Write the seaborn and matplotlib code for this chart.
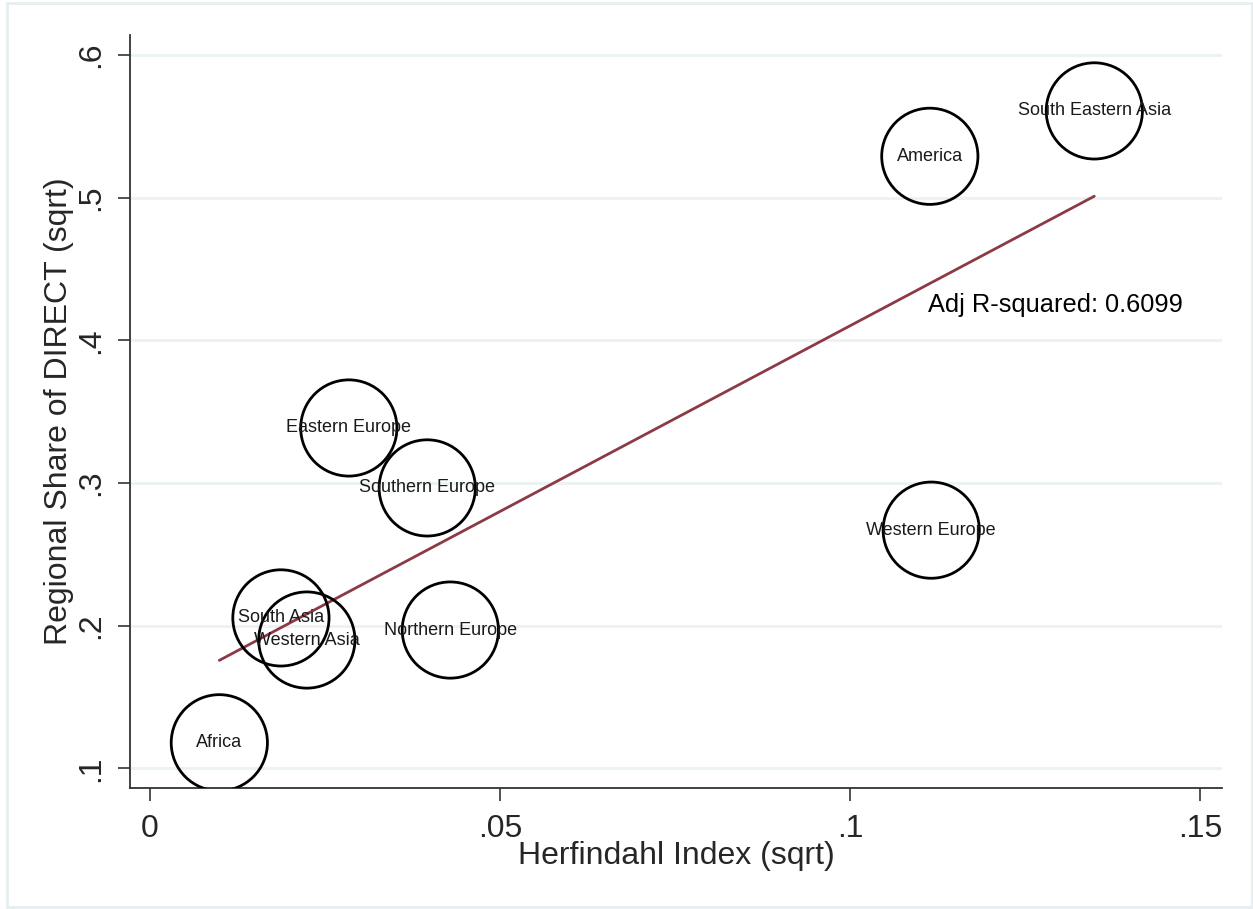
import numpy as np
import seaborn as sns
import matplotlib.pyplot as plt
import pandas as pd

regions = ['South Eastern Asia', 'America', 'Western Europe', 'Eastern Europe',
           'Southern Europe', 'Northern Europe', 'South Asia', 'Western Asia', 'Africa']
herfindahl = [0.1349, 0.1114, 0.1116, 0.0284, 0.0396, 0.0429, 0.0187, 0.0224, 0.0099]
share_direct = [0.5608, 0.5290, 0.2670, 0.3386, 0.2966, 0.1970, 0.2055, 0.1900, 0.1180]
adj_r2 = "Adj R-squared: 0.6099"

df = pd.DataFrame({'region': regions, 'hhi': herfindahl, 'share': share_direct})

sns.set_style("white")
plt.rcParams['font.family'] = ['Liberation Sans', 'DejaVu Sans']

fig = plt.figure(figsize=(12.53, 9.09), dpi=100)
ax = fig.add_axes([130/1253, 1 - 788/909, (1222-130)/1253, (788-35)/909])

# bubbles (equal weights)
sns.scatterplot(data=df, x='hhi', y='share', s=4800, facecolor='none',
                edgecolor='black', linewidth=2, ax=ax, zorder=3)
for _, r in df.iterrows():
    ax.text(r['hhi'], r['share'], r['region'], ha='center', va='center',
            fontsize=13, color='#1a1a1a', zorder=4)

# linear fit
sns.regplot(data=df, x='hhi', y='share', scatter=False, ci=None, truncate=True,
            line_kws={'color': '#8b3a46', 'linewidth': 2}, ax=ax)

ax.text(0.1111, 0.4248, adj_r2, ha='left', va='center', fontsize=18.3, color='black')

ax.set_xlim(-0.00286, 0.15314)
ax.set_ylim(0.0863, 0.614)
ax.set_xticks([0, 0.05, 0.1, 0.15])
ax.set_xticklabels(['0', '.05', '.1', '.15'])
ax.set_yticks([0.1, 0.2, 0.3, 0.4, 0.5, 0.6])
ax.set_yticklabels(['.1', '.2', '.3', '.4', '.5', '.6'], rotation=90, va='center')
ax.tick_params(axis='both', direction='out', length=9, width=1.2, color='#333333',
               labelsize=23, bottom=True, left=True)
ax.tick_params(axis='x', pad=10)
ax.tick_params(axis='y', pad=8)
ax.yaxis.grid(True, color='#eaf2f3', linewidth=2)
ax.xaxis.grid(False)
for side in ['top', 'right']:
    ax.spines[side].set_visible(False)
for side in ['left', 'bottom']:
    ax.spines[side].set_color('#333333')
    ax.spines[side].set_linewidth(1.3)

ax.set_xlabel('Herfindahl Index (sqrt)', fontsize=23, labelpad=-2.5)
ax.set_ylabel('Regional Share of DIRECT (sqrt)', fontsize=23, labelpad=1.5)

# outer frame
fig.patches.append(plt.Rectangle((7/1253, 2/909), 1245/1253, 904/909, transform=fig.transFigure,
                                 fill=False, edgecolor='#e6eef0', linewidth=2))

fig.savefig('out.png', dpi=100)
